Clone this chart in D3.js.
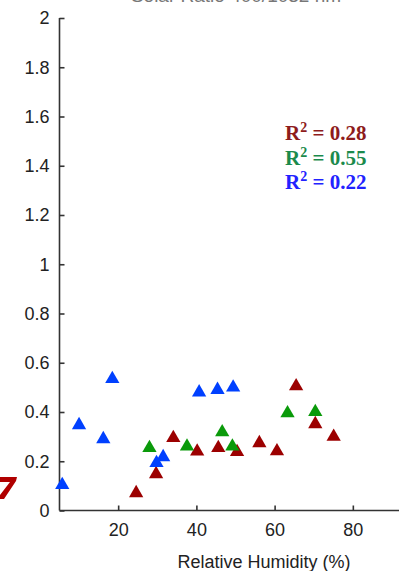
<!DOCTYPE html>
<html>
<head>
<meta charset="utf-8">
<script src="https://cdn.jsdelivr.net/npm/d3@7/dist/d3.min.js"></script>
<style>
  html, body { margin: 0; padding: 0; background: #fff; }
  svg { display: block; }
</style>
</head>
<body>
<svg id="chart" width="399" height="571"></svg>
<script>
// Relative humidity (%) and solar ratio for each of the three series
const redHumidity   = [24.6, 29.7, 34.1, 40.2, 45.6, 50.4, 56.1, 60.6, 65.5, 70.4, 75.1];
const redRatio      = [0.071, 0.148, 0.295, 0.240, 0.254, 0.238, 0.274, 0.241, 0.505, 0.351, 0.300];
const greenHumidity = [28.0, 37.6, 46.6, 49.2, 63.3, 70.4];
const greenRatio    = [0.254, 0.260, 0.318, 0.260, 0.395, 0.400];
const blueHumidity  = [5.7, 10.0, 16.2, 18.5, 29.8, 31.5, 40.7, 45.4, 49.4];
const blueRatio     = [0.104, 0.347, 0.290, 0.534, 0.193, 0.217, 0.480, 0.490, 0.500];

const xTicks = [20, 40, 60, 80];
const yTicks = [0, 0.2, 0.4, 0.6, 0.8, 1, 1.2, 1.4, 1.6, 1.8, 2];
const yTickLabels = ["0", "0.2", "0.4", "0.6", "0.8", "1", "1.2", "1.4", "1.6", "1.8", "2"];

const rSquared = [
  { label: "0.28", color: "#8e1c1c" },
  { label: "0.55", color: "#1b8a4c" },
  { label: "0.22", color: "#2222ff" }
];

const series = [
  { xs: redHumidity,   ys: redRatio,   color: "#9c0000" },
  { xs: greenHumidity, ys: greenRatio, color: "#0a9a0a" },
  { xs: blueHumidity,  ys: blueRatio,  color: "#0040ff" }
];

const svg = d3.select("#chart");
const x = d3.scaleLinear().domain([5, 95]).range([59.5, 411.5]);
const y = d3.scaleLinear().domain([0, 2]).range([510.5, 18]);

const axisColor = "#333";
const labelFont = "'Liberation Sans', Arial, sans-serif";

// chart title, running off the top edge
svg.append("text")
  .attr("x", 236).attr("y", 2)
  .attr("text-anchor", "middle")
  .attr("font-family", labelFont)
  .attr("font-size", 19)
  .attr("fill", "#777")
  .text("Solar Ratio 400/1032 nm");

// x axis
const xAxis = svg.append("g")
  .attr("transform", `translate(0,${y(0)})`)
  .call(d3.axisBottom(x).tickValues(xTicks).tickSize(-5).tickPadding(12).tickFormat(d3.format("d")));
xAxis.select(".domain").attr("stroke", axisColor).attr("stroke-width", 1.6).attr("d", `M${x(5)},0H${x(95)}`);
xAxis.selectAll(".tick line").attr("stroke", axisColor).attr("stroke-width", 1.6);
xAxis.selectAll(".tick text")
  .attr("font-family", labelFont).attr("font-size", 18).attr("fill", "#222")
  .attr("dy", "0.75em");

// y axis
const yAxis = svg.append("g")
  .attr("transform", `translate(${x(5)},0)`)
  .call(d3.axisLeft(y).tickValues(yTicks).tickSize(-5).tickPadding(10)
    .tickFormat((d, i) => yTickLabels[i]));
yAxis.select(".domain").attr("stroke", axisColor).attr("stroke-width", 1.6)
  .attr("d", `M0,${y(0)}V${y(2)}`);
yAxis.selectAll(".tick line").attr("stroke", axisColor).attr("stroke-width", 1.6);
yAxis.selectAll(".tick text")
  .attr("font-family", labelFont).attr("font-size", 18).attr("fill", "#222");

// x axis title
svg.append("text")
  .attr("x", 264).attr("y", 568)
  .attr("text-anchor", "middle")
  .attr("font-family", labelFont)
  .attr("font-size", 18)
  .attr("fill", "#222")
  .text("Relative Humidity (%)");

// triangle markers
const tri = d3.symbol().type(d3.symbolTriangle).size(88);
series.forEach(s => {
  svg.append("g").selectAll("path")
    .data(s.xs.map((v, i) => [v, s.ys[i]]))
    .join("path")
    .attr("d", tri)
    .attr("transform", d => `translate(${x(d[0])},${y(d[1])})`)
    .attr("fill", s.color);
});

// coefficient of determination labels
const rGroup = svg.append("g")
  .attr("font-family", "'Liberation Serif', 'Times New Roman', serif")
  .attr("font-weight", "bold")
  .attr("font-size", 21);
rSquared.forEach((r, i) => {
  const t = rGroup.append("text")
    .attr("x", 285).attr("y", 140 + i * 24.5)
    .attr("fill", r.color);
  t.append("tspan").text("R");
  t.append("tspan").attr("font-size", 14).attr("dy", -8).text("2");
  t.append("tspan").attr("dy", 8).text(" = " + r.label);
});

// pointer arrow at the lower left edge
svg.append("path")
  .attr("d", "M0,477 L17,477 L16,481 L4,499 L-3,499 L10,482 L0,482 Z")
  .attr("fill", "#b00000");
</script>
</body>
</html>
